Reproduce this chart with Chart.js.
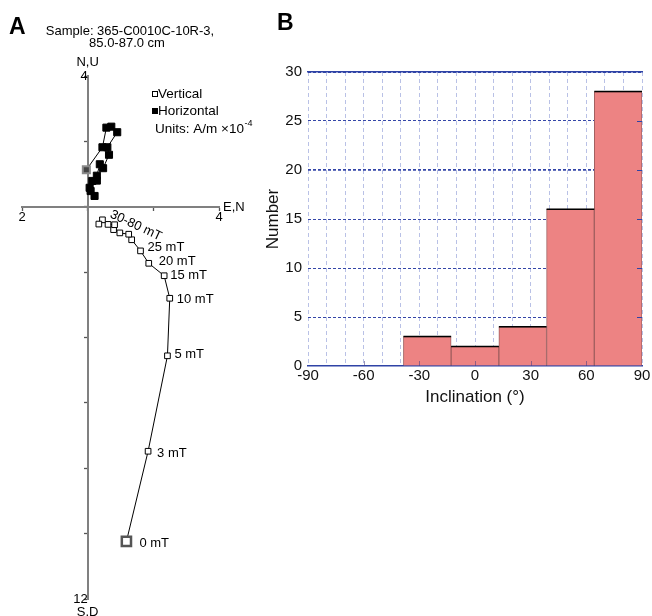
<!DOCTYPE html>
<html>
<head>
<meta charset="utf-8">
<script src="https://cdn.jsdelivr.net/npm/chart.js@4.4.0/dist/chart.umd.min.js"></script>
<style>
  html, body { margin: 0; padding: 0; background: #fff; width: 652px; height: 616px; overflow: hidden; }
  #zij { position: absolute; left: 0; top: 0; }
  #hist { position: absolute; left: 250px; top: 0; }
</style>
</head>
<body>
<canvas id="zij" width="264" height="616"></canvas>
<canvas id="hist" width="402" height="420"></canvas>
<script>
// ---- Panel A: AF demagnetization of sample 365-C0010C-10R-3 ----
const steps = [0, 3, 5, 10, 15, 20, 25, 30, 35, 40, 45, 50, 60, 70, 80];   // mT
// vertical projection (N, Up), A/m x10^-4
const vertN  = [1.18, 1.84, 2.43, 2.50, 2.33, 1.86, 1.61, 1.34, 1.25, 0.98, 0.79, 0.82, 0.62, 0.45, 0.34];
const vertUp = [-10.24, -7.48, -4.56, -2.80, -2.11, -1.73, -1.35, -1.01, -0.84, -0.80, -0.70, -0.55, -0.54, -0.40, -0.53];
// horizontal projection (E, N), A/m x10^-4
const horE = [-0.04, 0.45, 0.57, 0.72, 0.90, 0.60, 0.65, 0.47, 0.37, 0.28, 0.28, 0.14, 0.06, 0.09, 0.21];
const horN = [1.13, 1.82, 2.42, 2.45, 2.28, 1.82, 1.59, 1.18, 1.30, 0.95, 0.80, 0.79, 0.58, 0.48, 0.33];
const stepLabels = ['0 mT', '3 mT', '5 mT', '10 mT', '15 mT', '20 mT', '25 mT'];
const rangeLabel = '30-80 mT';
const zijXTickLabels = ['2', '', '', '4'];                       // ticks at -2, 0, 2, 4
const zijYTickLabels = ['12', '', '', '', '', '', '', '', '4'];  // ticks at -12 ... 4

// ---- Panel B: inclination histogram ----
const binEdges = [-90, -64.29, -38.57, -12.86, 12.86, 38.57, 64.29, 90];
const incCounts = [0, 0, 3, 2, 4, 16, 28];
const incTickLabels = [-90, -60, -30, 0, 30, 60, 90];

const FONT = '"Liberation Sans", Arial, Helvetica, sans-serif';

// text offsets of the step labels from their points (px)
const stepLabelOffsets = [[13, 2], [9, 2], [7, -1], [7, 1], [6, 0], [10, -2], [7, -3]];

const zijAnnotations = {
  id: 'zijAnnotations',
  afterDraw(chart) {
    const { ctx, scales: { x, y } } = chart;
    const ox = x.getPixelForValue(0);
    const oy = y.getPixelForValue(0);
    ctx.save();
    ctx.fillStyle = '#000';
    ctx.textBaseline = 'middle';

    // panel letter
    ctx.font = 'bold 23px ' + FONT;
    ctx.textAlign = 'left';
    ctx.fillText('A', 9, 28);

    // sample title
    ctx.font = '13px ' + FONT;
    ctx.textAlign = 'center';
    ctx.fillText('Sample: 365-C0010C-10R-3,', 130, 31);
    ctx.fillText('85.0-87.0 cm', 127, 43);

    // axis end labels
    ctx.font = '13px ' + FONT;
    ctx.fillText('N,U', ox, y.top - 14);
    ctx.fillText('S,D', ox, y.bottom + 13);
    ctx.textAlign = 'left';
    ctx.fillText('E,N', x.right + 4, oy + 1);

    // legend
    ctx.font = '13.5px ' + FONT;
    ctx.lineWidth = 1;
    ctx.strokeStyle = '#000';
    ctx.fillStyle = '#fff';
    ctx.fillRect(152.5, 91.5, 5, 5);
    ctx.strokeRect(152.5, 91.5, 5, 5);
    ctx.fillStyle = '#000';
    ctx.fillText('Vertical', 158, 94);
    ctx.fillRect(152, 108, 6, 6);
    ctx.fillText('Horizontal', 158, 111);
    ctx.fillText('Units: A/m \u00d710', 155, 129);
    const uw = ctx.measureText('Units: A/m \u00d710').width;
    ctx.font = '9px ' + FONT;
    ctx.fillText('-4', 155 + uw + 0.5, 124);

    // demagnetization step labels next to the vertical projection points
    ctx.font = '13px ' + FONT;
    const meta = chart.getDatasetMeta(1);
    stepLabels.forEach((t, i) => {
      const p = meta.data[i];
      const o = stepLabelOffsets[i];
      ctx.fillText(t, p.x + o[0], p.y + o[1]);
    });
    const q = meta.data[7];
    ctx.translate(q.x - 21, q.y - 26);
    ctx.rotate(25 * Math.PI / 180);
    ctx.fillText(rangeLabel, 0, 0);
    ctx.restore();
  }
};

new Chart(document.getElementById('zij'), {
  type: 'scatter',
  data: {
    datasets: [
      {
        label: 'Horizontal',
        data: horE.map((e, i) => ({ x: e, y: horN[i] })),
        showLine: true,
        borderColor: '#000',
        borderWidth: 1,
        pointStyle: 'rect',
        pointRadius: 5,
        pointBackgroundColor: c => c.dataIndex === 0 ? '#444' : '#000',
        pointBorderColor: c => c.dataIndex === 0 ? '#8a8a8a' : '#000',
        pointBorderWidth: c => c.dataIndex === 0 ? 2 : 1
      },
      {
        label: 'Vertical',
        data: vertN.map((n, i) => ({ x: n, y: vertUp[i] })),
        showLine: true,
        borderColor: '#000',
        borderWidth: 1,
        pointStyle: 'rect',
        pointRadius: c => c.dataIndex === 0 ? 6.5 : 4,
        pointBackgroundColor: '#fff',
        pointBorderColor: c => c.dataIndex === 0 ? '#555' : '#000',
        pointBorderWidth: c => c.dataIndex === 0 ? 2.5 : 1
      }
    ]
  },
  options: {
    responsive: false,
    animation: false,
    events: [],
    layout: { padding: { left: 22, right: 45, top: 76, bottom: 17 } },
    plugins: { legend: { display: false }, tooltip: { enabled: false } },
    scales: {
      x: {
        type: 'linear', min: -2, max: 4, position: { y: 0 },
        ticks: {
          stepSize: 2, autoSkip: false, maxRotation: 0, padding: 0,
          color: '#000', font: { family: FONT, size: 13 },
          callback: (v, i) => zijXTickLabels[i]
        },
        grid: { drawOnChartArea: false, tickLength: 3, tickColor: '#555', tickWidth: 1.3 },
        border: { color: '#808080', width: 2 }
      },
      y: {
        type: 'linear', min: -12, max: 4, position: { x: 0 },
        ticks: {
          stepSize: 2, autoSkip: false, padding: 1,
          color: '#000', font: { family: FONT, size: 13 },
          callback: (v, i) => zijYTickLabels[i]
        },
        grid: { drawOnChartArea: false, tickLength: 3, tickColor: '#555', tickWidth: 1.3 },
        border: { color: '#808080', width: 2 }
      }
    }
  },
  plugins: [zijAnnotations]
});

// ---- histogram ----
const binCenters = binEdges.slice(0, -1).map((e, i) => (e + binEdges[i + 1]) / 2);

const histExtras = {
  id: 'histExtras',
  afterDatasetsDraw(chart) {
    const { ctx, chartArea, scales: { x, y } } = chart;
    ctx.save();
    // black top edge of each bar
    const meta = chart.getDatasetMeta(0);
    ctx.strokeStyle = '#000';
    ctx.lineWidth = 1.5;
    meta.data.forEach((b, i) => {
      if (!incCounts[i]) return;
      ctx.beginPath();
      ctx.moveTo(b.x - b.width / 2, b.y);
      ctx.lineTo(b.x + b.width / 2, b.y);
      ctx.stroke();
    });
    // inner tick marks on the right frame and above the bottom axis
    ctx.strokeStyle = '#2f43a6';
    ctx.lineWidth = 1;
    y.ticks.forEach(t => {
      if (t.value <= 0 || t.value >= 30) return;
      const py = Math.round(y.getPixelForValue(t.value)) + 0.5;
      ctx.beginPath();
      ctx.moveTo(chartArea.right - 5, py);
      ctx.lineTo(chartArea.right, py);
      ctx.stroke();
    });
    ctx.strokeStyle = 'rgba(70,60,130,0.55)';
    incTickLabels.forEach(v => {
      if (v === -90 || v === 90) return;
      const px = Math.round(x.getPixelForValue(v)) + 0.5;
      ctx.beginPath();
      ctx.moveTo(px, chartArea.bottom);
      ctx.lineTo(px, chartArea.bottom - 5);
      ctx.stroke();
    });
    ctx.restore();
  },
  afterDraw(chart) {
    const { ctx } = chart;
    ctx.save();
    ctx.fillStyle = '#000';
    ctx.font = 'bold 23px ' + FONT;
    ctx.textBaseline = 'middle';
    ctx.fillText('B', 27, 24);
    ctx.restore();
  }
};

new Chart(document.getElementById('hist'), {
  type: 'bar',
  data: {
    datasets: [{
      data: binCenters.map((c, i) => ({ x: c, y: incCounts[i] })),
      backgroundColor: '#ed8383',
      borderColor: '#a05f5f',
      borderWidth: 1,
      borderSkipped: 'bottom',
      barThickness: 'flex',
      barPercentage: 1,
      categoryPercentage: 1
    }]
  },
  options: {
    responsive: false,
    animation: false,
    events: [],
    layout: { padding: { left: 0, right: 10, top: 72, bottom: 0 } },
    plugins: { legend: { display: false }, tooltip: { enabled: false } },
    scales: {
      x: {
        type: 'linear', min: -90, max: 90, offset: false,
        afterFit: s => { s.height = 54; },
        ticks: {
          stepSize: 10, autoSkip: false, maxRotation: 0, padding: 1,
          color: '#111', font: { family: FONT, size: 15 },
          callback: v => incTickLabels.includes(v) ? String(v) : ''
        },
        grid: { color: '#b9c1e6', lineWidth: 1, drawTicks: false, offset: false },
        border: { color: '#2f43a6', width: 1.5, dash: [4, 3] },
        title: { display: true, text: 'Inclination (\u00b0)', color: '#111', font: { family: FONT, size: 17 }, padding: { top: 0, bottom: 12 } }
      },
      xTop: {
        type: 'linear', position: 'top', min: -90, max: 90,
        afterFit: s => { s.height = 0; },
        ticks: { display: false },
        grid: { display: false },
        border: { color: '#2f43a6', width: 1.5 }
      },
      y: {
        type: 'linear', min: 0, max: 30,
        afterFit: s => { s.width = 58; },
        ticks: { stepSize: 5, padding: 6, color: '#111', font: { family: FONT, size: 15 } },
        grid: {
          color: c => c.tick.value === 0 ? 'rgba(0,0,0,0)' : '#3446a8',
          lineWidth: c => c.tick.value === 20 ? 1.7 : 1,
          drawTicks: false
        },
        border: { display: false, dash: [3, 2] },
        title: { display: true, text: 'Number', color: '#111', font: { family: FONT, size: 17 }, padding: { top: 13, bottom: 0 } }
      }
    }
  },
  plugins: [histExtras]
});
</script>
</body>
</html>
